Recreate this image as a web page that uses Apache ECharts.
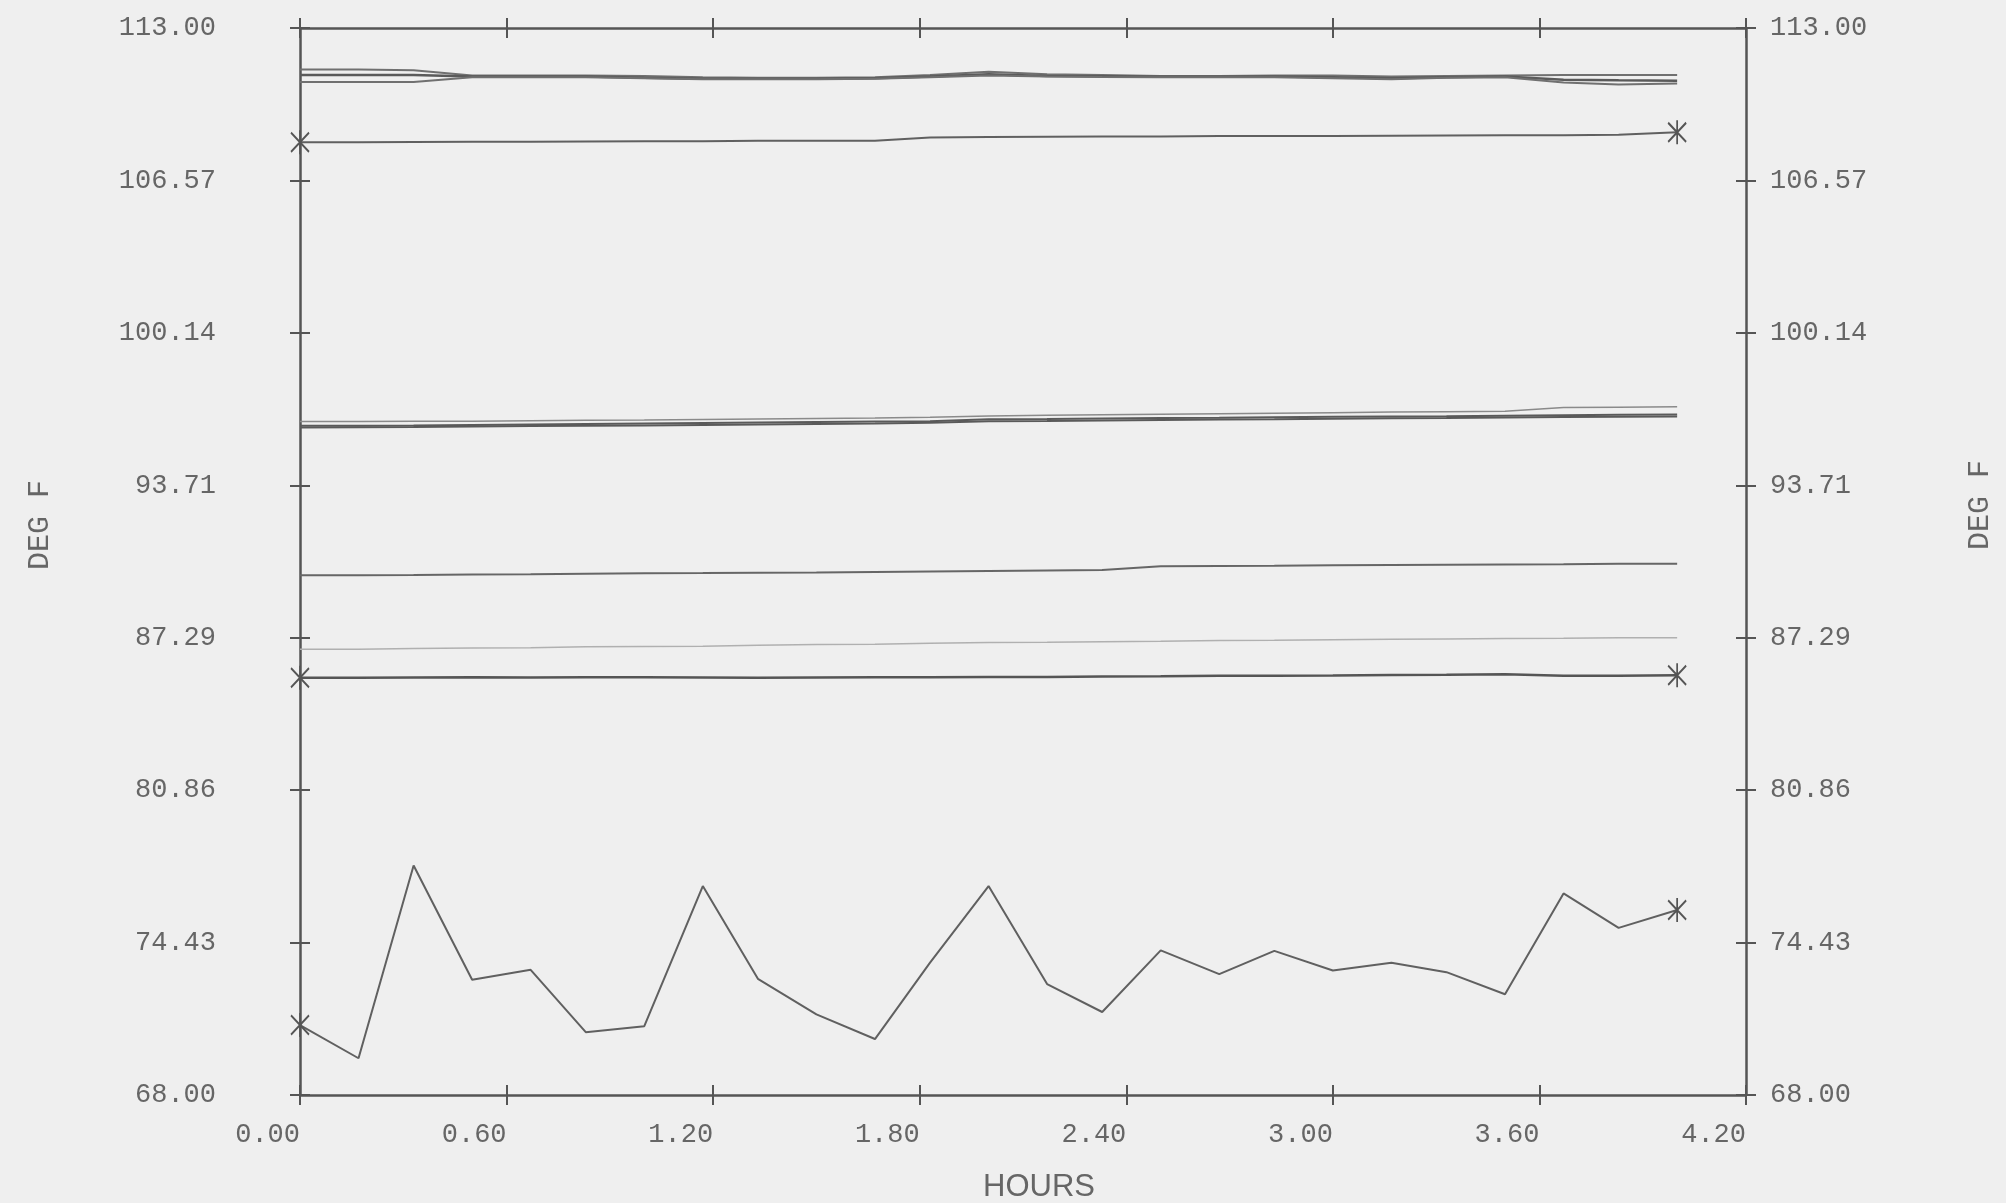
<!DOCTYPE html>
<html>
<head>
<meta charset="utf-8">
<script src="https://cdn.jsdelivr.net/npm/echarts@6/dist/echarts.min.js"></script>
<style>
  html, body { margin: 0; padding: 0; background: #efefef; }
  #chart { width: 2006px; height: 1203px; }
</style>
</head>
<body>
<div id="chart"></div>
<script>
// Sample times (hours) – one reading every 10 minutes
const hours = [0.00, 0.17, 0.33, 0.50, 0.67, 0.83, 1.00, 1.17, 1.33, 1.50, 1.67, 1.83,
               2.00, 2.17, 2.33, 2.50, 2.67, 2.83, 3.00, 3.17, 3.33, 3.50, 3.67, 3.83, 4.00];

// Upper cluster of temperatures (deg F)
const upperA = [111.25, 111.25, 111.22, 111.00, 111.00, 111.00, 110.98, 110.92, 110.90, 110.90, 110.92, 111.02,
                111.15, 111.05, 111.02, 110.98, 110.98, 111.00, 111.00, 110.95, 110.98, 111.00, 111.02, 111.02, 111.02];
const upperB = [111.02, 111.02, 111.02, 110.95, 110.95, 110.95, 110.90, 110.86, 110.86, 110.86, 110.88, 110.95,
                111.05, 110.98, 110.96, 110.94, 110.94, 110.95, 110.92, 110.88, 110.92, 110.95, 110.82, 110.80, 110.78];
const upperC = [110.72, 110.72, 110.72, 110.92, 110.92, 110.92, 110.88, 110.84, 110.84, 110.84, 110.86, 110.92,
                111.00, 110.95, 110.93, 110.92, 110.92, 110.92, 110.88, 110.84, 110.90, 110.92, 110.70, 110.62, 110.66];

// Marked trace near 108 deg F
const markedHigh = [108.18, 108.18, 108.19, 108.20, 108.20, 108.21, 108.22, 108.22, 108.24, 108.24, 108.25, 108.38,
                    108.40, 108.41, 108.42, 108.42, 108.44, 108.45, 108.45, 108.46, 108.47, 108.48, 108.48, 108.50, 108.60];

// Middle cluster near 96 deg F
const midA = [96.40, 96.40, 96.41, 96.42, 96.44, 96.46, 96.47, 96.49, 96.51, 96.53, 96.55, 96.58,
              96.64, 96.67, 96.69, 96.71, 96.73, 96.75, 96.77, 96.80, 96.82, 96.84, 96.99, 97.01, 97.03];
const midB = [96.22, 96.23, 96.24, 96.26, 96.28, 96.30, 96.32, 96.34, 96.36, 96.38, 96.40, 96.42,
              96.50, 96.51, 96.53, 96.55, 96.56, 96.58, 96.60, 96.62, 96.63, 96.65, 96.67, 96.69, 96.70];
const midC = [96.15, 96.16, 96.17, 96.19, 96.21, 96.22, 96.24, 96.26, 96.28, 96.30, 96.32, 96.35,
              96.42, 96.43, 96.45, 96.47, 96.49, 96.50, 96.52, 96.54, 96.55, 96.57, 96.59, 96.61, 96.62];

// Trace near 90 deg F
const line90 = [89.92, 89.92, 89.93, 89.95, 89.96, 89.98, 90.00, 90.01, 90.03, 90.04, 90.06, 90.08,
                90.10, 90.12, 90.14, 90.30, 90.31, 90.32, 90.34, 90.35, 90.36, 90.37, 90.38, 90.40, 90.40];

// Faint trace near 87 deg F
const faint87 = [86.80, 86.80, 86.83, 86.85, 86.86, 86.90, 86.92, 86.93, 86.97, 87.00, 87.01, 87.05,
                 87.08, 87.09, 87.12, 87.14, 87.17, 87.18, 87.20, 87.22, 87.23, 87.25, 87.26, 87.28, 87.28];

// Marked trace near 85.7 deg F
const markedMid = [85.60, 85.60, 85.61, 85.62, 85.61, 85.62, 85.62, 85.61, 85.60, 85.61, 85.62, 85.62,
                   85.63, 85.63, 85.65, 85.66, 85.68, 85.68, 85.69, 85.71, 85.72, 85.74, 85.68, 85.68, 85.70];

// Oscillating lower trace
const markedLow = [70.95, 69.55, 77.68, 72.86, 73.28, 70.65, 70.90, 76.81, 72.90, 71.40, 70.36, 73.58,
                   76.81, 72.68, 71.50, 74.10, 73.10, 74.08, 73.25, 73.58, 73.18, 72.25, 76.50, 75.05, 75.80];

// Axis ticks
const xMin = 0, xMax = 4.2, xStep = 0.6;
const yTickValues = [68.00, 74.43, 80.86, 87.29, 93.71, 100.14, 106.57, 113.00];
const yTickLabels = ['68.00', '74.43', '80.86', '87.29', '93.71', '100.14', '106.57', '113.00'];
const yMin = 68, yMax = 113;

const INK = '#555555';
const TEXT = '#666666';
const FONT = '"Liberation Mono", "DejaVu Sans Mono", monospace';

// Six-armed plotter asterisk used to mark the ends of a trace
const star = 'path://M0,-10L0,10M-6.5,-8L6.5,8M-6.5,8L6.5,-8';

function pairs(vals) { return hours.map((h, i) => [h, vals[i]]); }

function trace(vals, color, width, marked) {
  const s = {
    type: 'line',
    data: pairs(vals),
    xAxisIndex: 0,
    yAxisIndex: 0,
    lineStyle: { color: color, width: width },
    itemStyle: { color: 'transparent', borderColor: INK, borderWidth: 2 },
    symbol: 'none',
    silent: true,
    z: 3
  };
  if (marked) {
    s.showSymbol = true;
    s.showAllSymbol = true;
    s.symbolSize = [18, 24];
    s.symbol = (v, p) => (p.dataIndex === 0 || p.dataIndex === vals.length - 1) ? star : 'none';
  }
  return s;
}

function labelFor(v) {
  let best = 0;
  for (let i = 1; i < yTickValues.length; i++) {
    if (Math.abs(yTickValues[i] - v) < Math.abs(yTickValues[best] - v)) best = i;
  }
  return yTickLabels[best];
}

const tickStyle = { color: INK, width: 2 };
const lineStyle = { color: INK, width: 2.5 };

function xAx(position, inside, withLine, withLabels) {
  return {
    type: 'value', position: position, min: xMin, max: xMax, interval: xStep,
    axisLine: { show: withLine, onZero: false, lineStyle: lineStyle },
    axisTick: { show: true, inside: inside, length: 10, lineStyle: tickStyle },
    splitLine: { show: false },
    axisLabel: withLabels ? {
      show: true, margin: 26, align: 'right',
      color: TEXT, fontFamily: FONT, fontSize: 27,
      showMinLabel: true, showMaxLabel: true,
      formatter: v => v.toFixed(2)
    } : { show: false }
  };
}

function yAx(position, inside, withLine, withLabels, margin, padTop) {
  return {
    type: 'value', position: position, min: yMin, max: yMax,
    axisLine: { show: withLine, onZero: false, lineStyle: lineStyle },
    axisTick: { show: true, inside: inside, length: 10, lineStyle: tickStyle, customValues: yTickValues },
    splitLine: { show: false },
    axisLabel: withLabels ? {
      show: true, margin: margin, padding: [padTop, 0, 0, 0],
      color: TEXT, fontFamily: FONT, fontSize: 27,
      customValues: yTickValues,
      formatter: v => labelFor(v)
    } : { show: false }
  };
}

const chart = echarts.init(document.getElementById('chart'), null, { renderer: 'canvas' });

chart.setOption({
  backgroundColor: '#efefef',
  animation: false,
  grid: { left: 300, right: 260, top: 28, bottom: 108, containLabel: false },
  xAxis: [
    xAx('bottom', false, true, true),
    xAx('bottom', true, false, false),
    xAx('top', false, true, false),
    xAx('top', true, false, false)
  ],
  yAxis: [
    yAx('left', false, true, true, 84, 14),
    yAx('left', true, false, false, 0, 0),
    yAx('right', false, true, true, 24, 12),
    yAx('right', true, false, false, 0, 0)
  ],
  graphic: [
    { type: 'text', x: 1039, y: 1187, silent: true,
      style: { text: 'HOURS', fill: TEXT, font: '31px "Liberation Sans", sans-serif',
               align: 'center', verticalAlign: 'middle' } },
    { type: 'text', x: 40, y: 525, rotation: Math.PI / 2, silent: true,
      style: { text: 'DEG F', fill: TEXT, font: '30px ' + FONT,
               align: 'center', verticalAlign: 'middle' } },
    { type: 'text', x: 1980, y: 505, rotation: Math.PI / 2, silent: true,
      style: { text: 'DEG F', fill: TEXT, font: '30px ' + FONT,
               align: 'center', verticalAlign: 'middle' } }
  ],
  series: [
    trace(upperA, '#707070', 2, false),
    trace(upperB, '#5a5a5a', 2.5, false),
    trace(upperC, '#707070', 2, false),
    trace(markedHigh, '#606060', 2, true),
    trace(midA, '#8a8a8a', 1.5, false),
    trace(midB, '#5a5a5a', 2, false),
    trace(midC, '#5a5a5a', 2, false),
    trace(line90, '#666666', 2, false),
    trace(faint87, '#b0b0b0', 1.5, false),
    trace(markedMid, '#555555', 2.5, true),
    trace(markedLow, '#606060', 2, true)
  ]
});
</script>
</body>
</html>
